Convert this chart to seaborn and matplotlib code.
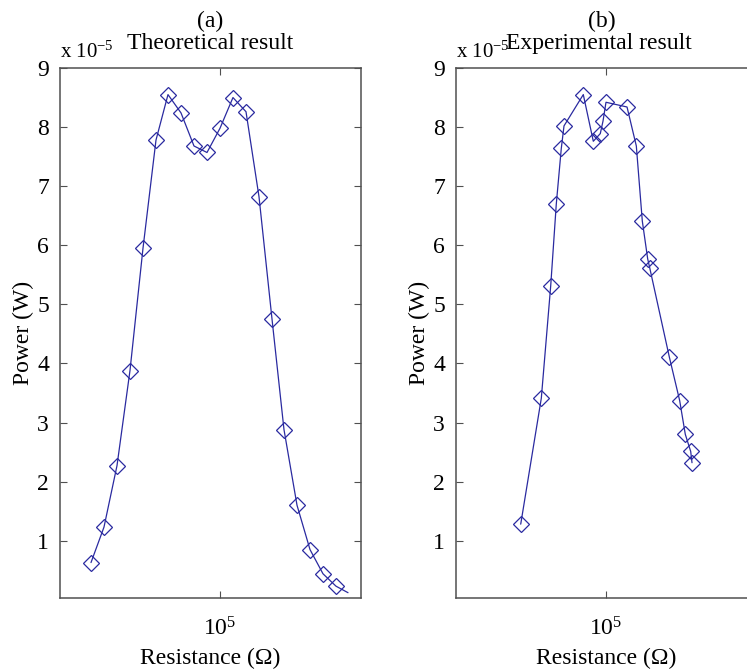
import numpy as np
import pandas as pd
import seaborn as sns
import matplotlib
matplotlib.use("Agg")
import matplotlib.pyplot as plt
from matplotlib.ticker import FixedLocator, FixedFormatter, NullLocator

# theoretical result (last point is the curve end, no marker)
r_theory = [22650, 26300, 30550, 35480, 41210, 47860, 54950, 63830, 74130, 86100,
            100000, 116100, 134900, 156700, 182000, 208900, 242700, 281800, 327300,
            380200, 436500]
p_theory = [0.63, 1.23, 2.27, 3.88, 5.95, 7.78, 8.55, 8.24, 7.68, 7.57,
            7.98, 8.50, 8.26, 6.82, 4.75, 2.88, 1.60, 0.85, 0.44,
            0.23, 0.12]

# experimental result
r_exp = [37460, 47480, 52900, 56430, 59770, 61660, 77000, 86400, 93650, 96600,
         100000, 127400, 141800, 151900, 161600, 165400, 207300, 233600, 249200,
         265200, 269200]
p_exp = [1.28, 3.41, 5.31, 6.70, 7.64, 8.02, 8.55, 7.76, 7.89, 8.10,
         8.42, 8.34, 7.68, 6.41, 5.77, 5.62, 4.11, 3.37, 2.80,
         2.51, 2.32]

panels = ["(a)", "(b)"]
titles = ["Theoretical result", "Experimental result"]
y_ticks = [1, 2, 3, 4, 5, 6, 7, 8, 9]

sns.set_style("ticks")
plt.rcParams["font.family"] = ["Liberation Serif", "DejaVu Serif"]
plt.rcParams["mathtext.fontset"] = "custom"
plt.rcParams["mathtext.rm"] = "Liberation Serif"
plt.rcParams["mathtext.it"] = "Liberation Serif:italic"
plt.rcParams["text.color"] = "black"
plt.rcParams["axes.labelcolor"] = "black"
plt.rcParams["xtick.labelcolor"] = "black"
plt.rcParams["ytick.labelcolor"] = "black"

line_col = "#2a2aa0"
spine_col = "#505050"
fs = 17

fig = plt.figure(figsize=(7.47, 6.70), dpi=100)
W, H = 747, 670
ax_a = fig.add_axes([60 / W, (H - 598) / H, 301 / W, 530 / H])
ax_b = fig.add_axes([456 / W, (H - 598) / H, 301 / W, 530 / H])

df_a = pd.DataFrame({"R": r_theory, "P": p_theory})
df_b = pd.DataFrame({"R": r_exp, "P": p_exp})

sns.lineplot(data=df_a, x="R", y="P", ax=ax_a, color=line_col, lw=0.9,
             marker="D", ms=8, mfc="none", mec=line_col, mew=0.9,
             markevery=list(range(len(r_theory) - 1)))
sns.lineplot(data=df_b, x="R", y="P", ax=ax_b, color=line_col, lw=0.9,
             marker="D", ms=8, mfc="none", mec=line_col, mew=0.9)

xlims = [(15850, 507000), (17780, 569000)]
title_x = [0.5, 0.475]
tag_x = [0.5, 0.485]

for i, ax in enumerate([ax_a, ax_b]):
    ax.set_xscale("log")
    ax.set_xlim(*xlims[i])
    ax.set_ylim(0.03, 9)
    ax.xaxis.set_major_locator(FixedLocator([1e5]))
    ax.xaxis.set_major_formatter(FixedFormatter([r"10$^{5}$"]))
    ax.xaxis.set_minor_locator(NullLocator())
    ax.set_yticks(y_ticks)
    ax.set_yticklabels([str(t) for t in y_ticks])
    ax.tick_params(direction="in", length=5, width=0.8, color=spine_col,
                   top=True, right=True, labelsize=fs, labelcolor="black")
    ax.tick_params(axis="y", pad=8)
    ax.tick_params(axis="x", pad=14)
    for s in ax.spines.values():
        s.set_color(spine_col)
        s.set_linewidth(1.1)
    ax.set_xlabel("Resistance (\u03a9)", fontsize=fs, labelpad=5)
    ax.set_ylabel("Power (W)", fontsize=fs, labelpad=2)
    ax.text(tag_x[i], 1.088, panels[i], transform=ax.transAxes,
            ha="center", va="center", fontsize=fs)
    ax.text(title_x[i], 1.046, titles[i], transform=ax.transAxes,
            ha="center", va="center", fontsize=fs)
    ax.text(0.0, 1.03, r"x 10$^{-5}$", transform=ax.transAxes,
            ha="left", va="center", fontsize=15)

fig.savefig("out.png", dpi=100)
